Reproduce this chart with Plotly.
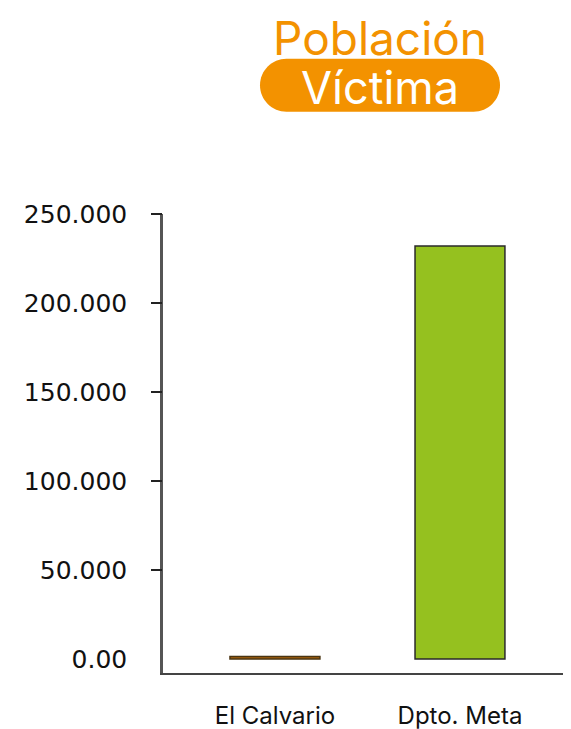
import plotly.graph_objects as go

# ---- data ----
categories = ["El Calvario", "Dpto. Meta"]
victims = [1400, 232000]
bar_colors = ["#A8620C", "#95C11F"]
tick_values = [0, 50000, 100000, 150000, 200000, 250000]
tick_labels = ["0.00", "50.000", "100.000", "150.000", "200.000", "250.000"]
title_top = "Población"
title_pill = "Víctima"

# ---- layout geometry (page pixels; page body has an 8px margin) ----
OFF = 8
W, H = 571 - OFF, 729 - OFF
L = 163 - OFF
T = 213.5 - OFF
B = H - (673 - OFF)
R = 0
PW, PH = W - L - R, H - T - B

def px_x(x):
    return (x - OFF - L) / PW

def px_y(y):
    return (H - B - (y - OFF)) / PH

ORANGE = "#F39200"

fig = go.Figure()
fig.add_trace(go.Bar(
    x=[0, 1], y=victims, width=0.486,
    marker=dict(color=bar_colors,
                line=dict(color=["#4a3412", "#2a2a2a"], width=1.5)),
    hoverinfo="skip", showlegend=False,
))
# invisible trace to host the tick-mark axis
fig.add_trace(go.Scatter(x=[0], y=[0], yaxis="y2", mode="markers",
                         marker=dict(opacity=0), showlegend=False, hoverinfo="skip"))

yrange = [-7860, 250000]

fig.update_layout(
    width=W, height=H,
    margin=dict(l=L, r=R, t=T, b=B),
    paper_bgcolor="white", plot_bgcolor="white",
    xaxis=dict(
        range=[-0.605, 1.6], tickvals=[0, 1], ticktext=categories,
        showline=True, linecolor="#444444", linewidth=2,
        showgrid=False, zeroline=False, ticks="",
        tickfont=dict(family="Inter", size=24, color="#111111"),
        ticklabelstandoff=20,
    ),
    yaxis=dict(
        range=yrange, tickvals=tick_values, ticktext=tick_labels,
        showline=True, linecolor="#555555", linewidth=2.5,
        showgrid=False, zeroline=False, ticks="",
        tickfont=dict(family="DejaVu Sans", size=25, color="#111111"),
        ticklabelstandoff=28,
    ),
    yaxis2=dict(
        overlaying="y", side="left", range=yrange,
        tickvals=tick_values[1:], ticks="outside", ticklen=11,
        tickwidth=2, tickcolor="#222222",
        showticklabels=False, showgrid=False, zeroline=False, showline=False,
    ),
)

# pill behind "Víctima"
pw, ph = 240, 53
r = ph / 2
k = 0.5523 * r
hw = pw / 2
path = (f"M {-hw + r},{-r} L {hw - r},{-r} "
        f"C {hw - r + k},{-r} {hw},{-k} {hw},0 "
        f"C {hw},{k} {hw - r + k},{r} {hw - r},{r} "
        f"L {-hw + r},{r} "
        f"C {-hw + r - k},{r} {-hw},{k} {-hw},0 "
        f"C {-hw},{-k} {-hw + r - k},{-r} {-hw + r},{-r} Z")
fig.add_shape(type="path", path=path, xref="paper", yref="paper",
              xsizemode="pixel", ysizemode="pixel",
              xanchor=px_x(380), yanchor=px_y(84.5),
              fillcolor=ORANGE, line=dict(width=0), layer="above")

fig.add_annotation(text=title_top, x=px_x(380), y=px_y(37), xref="paper", yref="paper",
                   showarrow=False, xanchor="center", yanchor="middle",
                   font=dict(family="Inter", size=46, color=ORANGE))
fig.add_annotation(text=title_pill, x=px_x(380), y=px_y(87), xref="paper", yref="paper",
                   showarrow=False, xanchor="center", yanchor="middle",
                   font=dict(family="Inter", size=45, color="white"))

fig.write_html("out.html")
